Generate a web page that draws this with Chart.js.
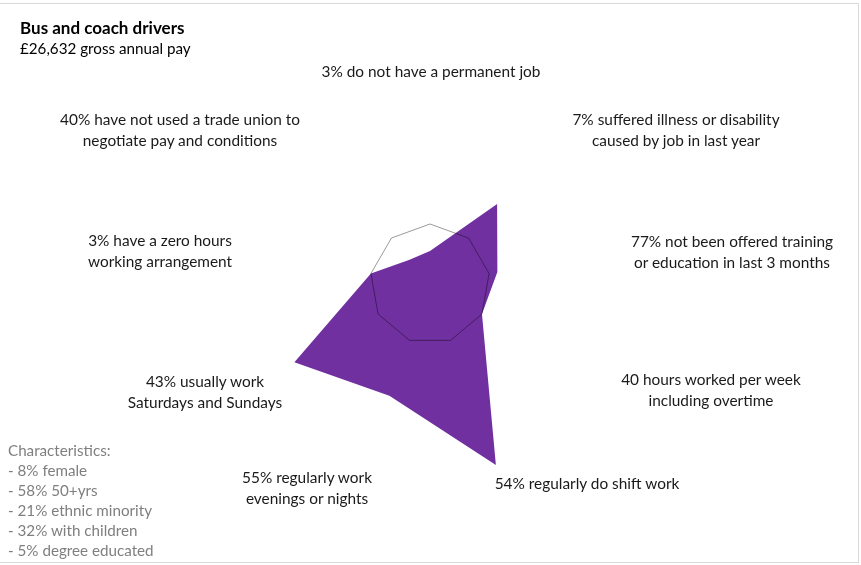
<!DOCTYPE html>
<html>
<head>
<meta charset="utf-8">
<title>Bus and coach drivers</title>
<script src="https://cdn.jsdelivr.net/npm/chart.js@4/dist/chart.umd.min.js"></script>
<style>
  html, body { margin: 0; padding: 0; background: #fff; overflow: hidden; }
  #wrap { position: relative; width: 861px; height: 565px; font-family: Lato, "Open Sans", sans-serif; color: #1a1a1a; }
  #frame { position: absolute; left: -1px; top: 3px; width: 859px; height: 558px;
           border-top: 1px solid #d9d9d9; border-right: 1px solid #d9d9d9; border-bottom: 1px solid #d9d9d9; }
  canvas { position: absolute; left: 0; top: 0; }
  .lbl { position: absolute; transform: translate(-50%, -50%); text-align: center;
         white-space: nowrap; font-size: 15.4px; line-height: 20.5px; }
  #title { position: absolute; left: 20px; top: 17px; font-size: 17px; font-weight: bold; color: #000; }
  #pay { position: absolute; left: 20px; top: 39px; font-size: 15.2px; color: #000; }
  #notes { position: absolute; left: 8px; top: 440px; font-size: 15.2px; line-height: 20px; color: #7f7f7f; white-space: nowrap; }
</style>
</head>
<body>
<div id="wrap">
  <div id="frame"></div>
  <canvas id="radar" width="861" height="565"></canvas>
  <div id="title">Bus and coach drivers</div>
  <div id="pay">£26,632 gross annual pay</div>
  <div id="notes"></div>
</div>
<script>
// spokes, clockwise from the top
const categories = [
  ['3% do not have a permanent job'],
  ['7% suffered illness or disability', 'caused by job in last year'],
  ['77% not been offered training', 'or education in last 3 months'],
  ['40 hours worked per week', 'including overtime'],
  ['54% regularly do shift work'],
  ['55% regularly work', 'evenings or nights'],
  ['43% usually work', 'Saturdays and Sundays'],
  ['3% have a zero hours', 'working arrangement'],
  ['40% have not used a trade union to', 'negotiate pay and conditions']
];

// occupation relative to the all-jobs average (1 = average)
const occupationIndex = [0.55, 1.74, 1.14, 1.0, 3.21, 1.98, 2.61, 1.0, 0.53];
const averageIndex = [1, 1, 1, 1, 1, 1, 1, 1, 1];

const characteristics = [
  'Characteristics:',
  '- 8% female',
  '- 58% 50+yrs',
  '- 21% ethnic minority',
  '- 32% with children',
  '- 5% degree educated'
];

// where each spoke's caption sits (centre of the text block)
const captionPos = [
  [431, 71], [676, 129], [732, 251], [711, 389], [587, 483],
  [307, 487], [205, 391], [160, 250], [180, 129]
];

const wrap = document.getElementById('wrap');
categories.forEach((lines, i) => {
  const d = document.createElement('div');
  d.className = 'lbl';
  d.style.left = captionPos[i][0] + 'px';
  d.style.top = captionPos[i][1] + 'px';
  d.innerHTML = lines.join('<br>');
  wrap.appendChild(d);
});
document.getElementById('notes').innerHTML = characteristics.join('<br>');

new Chart(document.getElementById('radar'), {
  type: 'radar',
  data: {
    labels: categories.map(l => l.join(' ')),
    datasets: [
      {
        label: 'All jobs average',
        data: averageIndex,
        borderColor: 'rgba(0, 0, 0, 0.4)',
        borderWidth: 1,
        backgroundColor: 'rgba(0, 0, 0, 0)',
        fill: false,
        pointRadius: 0
      },
      {
        label: 'Bus and coach drivers',
        data: occupationIndex,
        borderWidth: 0,
        borderColor: 'rgba(0, 0, 0, 0)',
        backgroundColor: '#7030a0',
        fill: true,
        pointRadius: 0
      }
    ]
  },
  options: {
    responsive: false,
    animation: false,
    layout: { padding: { left: 220, right: 221, top: 74, bottom: 71 } },
    plugins: {
      legend: { display: false },
      tooltip: { enabled: false }
    },
    scales: {
      r: {
        min: 0,
        max: 3.5,
        ticks: { display: false },
        grid: { display: false },
        angleLines: { display: false },
        pointLabels: { display: false }
      }
    }
  }
});
</script>
</body>
</html>
